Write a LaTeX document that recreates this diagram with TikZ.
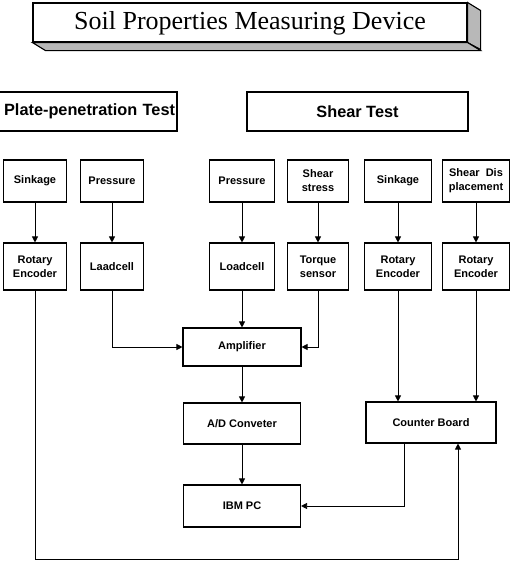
\documentclass[tikz,border=0pt]{standalone}
\usepackage{fontspec}
\setmainfont{Liberation Serif}
\newfontfamily\boxfont{Liberation Sans}
\usetikzlibrary{arrows.meta}

\tikzset{
  unit/.style={draw, line width=1.1pt, align=center, inner sep=0pt,
    font=\boxfont\bfseries\fontsize{11}{14}\selectfont},
  header/.style={draw, line width=1.1pt, inner sep=0pt,
    minimum height=39pt, font=\boxfont\bfseries\fontsize{16.3}{19}\selectfont},
  face/.style={draw, line width=1.1pt, fill=black!28},
  link/.style={line width=0.8pt, -{Triangle[length=6pt,width=6pt]}},
}

\begin{document}
\begin{tikzpicture}[x=1pt,y=-1pt]
\useasboundingbox (0,0) rectangle (519,562);
\clip (0,0) rectangle (519,562);

% title plate with bevelled depth
\node[draw, line width=1.1pt, fill=white, minimum width=434pt, minimum height=39pt,
      inner sep=0pt, text height=19pt, text depth=6pt,
      font=\fontsize{26}{30}\selectfont] (title) at (250,22.5)
      {Soil Properties Measuring Device};
\draw[face] (title.north east) -- ++(13,8) -- ++(0,39) -- (title.south east) -- cycle;
\draw[face] (title.south west) -- (title.south east) -- ++(13,8)
      -- ([shift={(13,8)}]title.south west) -- cycle;

% test groups
\node[header, minimum width=197pt, text width=193pt, align=right] (plate) at (78.5,111.5)
      {Plate-penetration Test};
\node[header, minimum width=221pt] (shear) at (357.5,111.5) {Shear Test};

% measured quantities
\node[unit, minimum width=63pt, minimum height=42pt] (q1) at (35,181) {Sinkage};
\node[unit, minimum width=63pt, minimum height=42pt] (q2) at (112,181) {Pressure};
\node[unit, minimum width=65pt, minimum height=42pt] (q3) at (242,181) {Pressure};
\node[unit, minimum width=61pt, minimum height=42pt] (q4) at (318,181) {Shear\\stress};
\node[unit, minimum width=67pt, minimum height=42pt] (q5) at (398,181) {Sinkage};
\node[unit, minimum width=67pt, minimum height=42pt] (q6) at (476,181) {Shear~~Dis\\placement};

% sensors
\node[unit, minimum width=63pt, minimum height=47pt] (s1) at (35,266.5) {Rotary\\Encoder};
\node[unit, minimum width=63pt, minimum height=47pt] (s2) at (112,266.5) {Laadcell};
\node[unit, minimum width=65pt, minimum height=47pt] (s3) at (242,266.5) {Loadcell};
\node[unit, minimum width=61pt, minimum height=47pt] (s4) at (318,266.5) {Torque\\sensor};
\node[unit, minimum width=67pt, minimum height=47pt] (s5) at (398,266.5) {Rotary\\Encoder};
\node[unit, minimum width=67pt, minimum height=47pt] (s6) at (476,266.5) {Rotary\\Encoder};

% signal chain
\node[unit, minimum width=118pt, minimum height=38pt] (amp) at (242,347) {Amplifier};
\node[unit, minimum width=117pt, minimum height=41pt] (adc) at (242,423.5) {A/D Conveter};
\node[unit, minimum width=117pt, minimum height=42pt] (pc) at (242,506) {IBM PC};
\node[unit, minimum width=130pt, minimum height=41pt] (cb) at (431,422.5) {Counter Board};

\coordinate (floor) at (0,559);

% quantity -> sensor
\foreach \i in {1,...,6} \draw[link] (q\i.south) -- (s\i.north);

% sensors -> amplifier
\draw[link] (s2.south) |- (amp.west);
\draw[link] (s3.south) -- (amp.north);
\draw[link] (s4.south) |- (amp.east);
\draw[link] (amp.south) -- (adc.north);
\draw[link] (adc.south) -- (pc.north);

% encoders -> counter board
\draw[link] (s5.south) -- (s5.south |- cb.north);
\draw[link] (s6.south) -- (s6.south |- cb.north);
\draw[link] ([xshift=-27pt]cb.south) |- (pc.east);
\draw[link] (s1.south) -- (s1.south |- floor) -| ([xshift=27pt]cb.south);
\end{tikzpicture}
\end{document}
